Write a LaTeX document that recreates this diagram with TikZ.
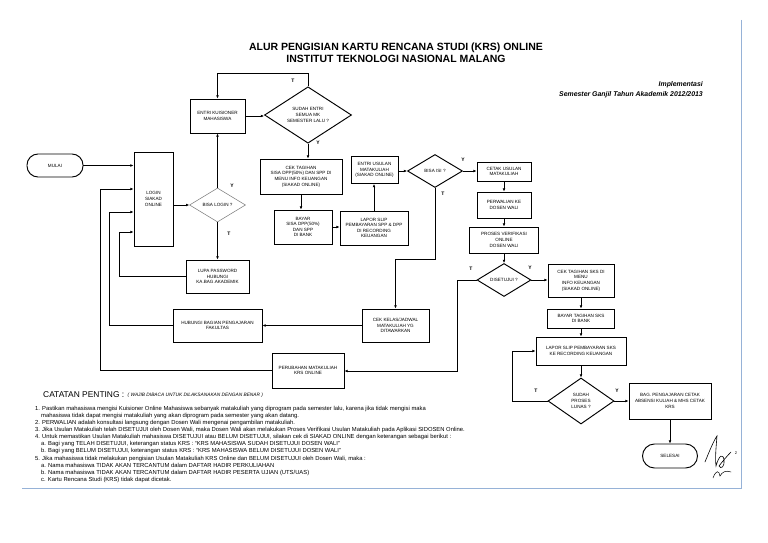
\documentclass[tikz,border=0pt]{standalone}
\usepackage{fontspec}
\setmainfont{Liberation Sans}
\usetikzlibrary{shapes.geometric,arrows.meta}
\definecolor{framec}{RGB}{150,178,215}
\begin{document}
\begin{tikzpicture}[x=1pt,y=-1pt,
 box/.style={draw,line width=0.95pt,align=center,font=\fontsize{4.6}{5.6}\selectfont,inner sep=0.5pt},
 dia/.style={draw,line width=0.95pt,diamond,align=center,font=\fontsize{4.6}{5.6}\selectfont,inner sep=0pt},
 term/.style={draw,line width=0.95pt,rounded corners=11pt,font=\fontsize{4.6}{5.6}\selectfont},
 arr/.style={line width=0.85pt,-{Latex[length=3.2pt,width=2.8pt]}},
 lab/.style={font=\bfseries\fontsize{5}{6}\selectfont,inner sep=0pt},
 note/.style={anchor=west,font=\fontsize{5.85}{6}\selectfont,inner sep=0pt},
]
\fill[white] (0,0) rectangle (768,543);
\useasboundingbox (0,0) rectangle (768,543);
% frame
\draw[framec,line width=1pt] (741,20) -- (741,488) -- (22,488);

% titles
\node[font=\bfseries\fontsize{10.5}{12}\selectfont,align=center,inner sep=0pt] (title) at (396,52.5) {ALUR PENGISIAN KARTU RENCANA STUDI (KRS) ONLINE\\INSTITUT TEKNOLOGI NASIONAL MALANG};
\node[font=\bfseries\itshape\fontsize{6.9}{10.5}\selectfont,align=right,anchor=east,inner sep=0pt] (sem) at (703,89.5) {Implementasi\\Semester Ganjil Tahun Akademik 2012/2013};

% nodes
\node[term,minimum width=56,minimum height=23] (mu) at (55,165.5) {MULAI};
\node[box,minimum width=39,minimum height=94] (lg) at (153.5,199) {LOGIN\\SIAKAD\\ONLINE};
\node[box,minimum width=55,minimum height=34] (ek) at (217.5,116) {ENTRI KUISIONER\\MAHASISWA};
\node[dia,minimum width=87,minimum height=46] (se) at (308,115) {SUDAH ENTRI\\SEMUA MK\\SEMESTER LALU ?};
\node[box,minimum width=82,minimum height=35] (ct) at (301,176.5) {CEK TAGIHAN\\SISA DPP(50\%) DAN SPP DI\\MENU INFO KEUANGAN\\(SIAKAD ONLINE)};
\node[box,minimum width=58,minimum height=34] (by) at (303,227) {BAYAR\\SISA DPP(50\%)\\DAN SPP\\DI BANK};
\node[box,minimum width=68,minimum height=34] (lp) at (374,228) {LAPOR SLIP\\PEMBAYARAN SPP \& DPP\\DI RECORDING\\KEUANGAN};
\node[box,minimum width=47,minimum height=27] (eu) at (374.5,170) {ENTRI USULAN\\MATAKULIAH\\(SIAKAD ONLINE)};
\node[dia,minimum width=55,minimum height=33] (bi) at (435,171) {BISA ISI ?};
\node[box,minimum width=54,minimum height=19] (cu) at (504,171.5) {CETAK USULAN\\MATAKULIAH};
\node[box,minimum width=54,minimum height=26] (pw) at (504,205) {PERWALIAN KE\\DOSEN WALI};
\node[box,minimum width=69,minimum height=26] (pv) at (504,240) {PROSES VERIFIKASI\\ONLINE\\DOSEN WALI};
\node[dia,minimum width=54,minimum height=33] (ds) at (504,280) {DISETUJUI ?};
\node[box,minimum width=66,minimum height=33] (cs) at (581,280.5) {CEK TAGIHAN SKS DI\\MENU\\INFO KEUANGAN\\(SIAKAD ONLINE)};
\node[box,minimum width=67,minimum height=19] (bs) at (581,318.5) {BAYAR TAGIHAN SKS\\DI BANK};
\node[box,minimum width=90,minimum height=28] (ls) at (581,351) {LAPOR SLIP PEMBAYARAN SKS\\KE RECORDING KEUANGAN};
\node[dia,minimum width=66,minimum height=46] (sl) at (581,401) {SUDAH\\PROSES\\LUNAS ?};
\node[box,minimum width=82,minimum height=36] (bp) at (670,401) {BAG. PENGAJARAN CETAK\\ABSENSI KULIAH \& MHS CETAK\\KRS};
\node[term,minimum width=55,minimum height=24,rounded corners=12pt] (sel) at (670,456) {SELESAI};
\node[dia,draw=gray,line width=0.55pt,minimum width=56,minimum height=34] (bl) at (217.5,205) {BISA LOGIN ?};
\node[box,minimum width=63,minimum height=33] (lup) at (217.5,276.5) {LUPA PASSWORD\\HUBUNGI\\KA.BAG.AKADEMIK};
\node[box,minimum width=89,minimum height=33] (hb) at (217.5,325.5) {HUBUNGI BAGIAN PENGAJARAN\\FAKULTAS};
\node[box,minimum width=67,minimum height=33] (ck) at (395.5,325.5) {CEK KELAS/JADWAL\\MATAKULIAH YG\\DITAWARKAN};
\node[box,minimum width=72,minimum height=35] (pm) at (308,370.5) {PERUBAHAN MATAKULIAH\\KRS ONLINE};

% helper coordinates
\coordinate (ctop) at (0,73);
\coordinate (c1) at (0,259);
\coordinate (c2) at (457,371);
\coordinate (c3) at (109,212);
\coordinate (c4) at (119,232);
\coordinate (c5) at (100,189);
\coordinate (c6) at (512,351);

% connectors
\draw[arr] (mu.east) -- (mu.east -| lg.west);
\draw[arr] (se.north) -- (se.north |- ctop) -| (ek.north);
\draw[arr] (ek.east) -- (ek.east -| se.west);
\draw[arr] (se.south) -- (se.south |- ct.north);
\draw[arr] (ct.south) -- (ct.south |- by.north);
\draw[arr] (by.east) -- (by.east -| lp.west);
\draw[arr] (lp.north) -- (lp.north |- eu.south);
\draw[arr] (eu.east |- bi.west) -- (bi.west);
\draw[arr] (bi.east) -- (bi.east -| cu.west);
\draw[arr] (bi.south) -- (bi.south |- c1) -| (ck.north);
\draw[arr] (cu.south) -- (pw.north);
\draw[arr] (pw.south) -- (pv.north);
\draw[arr] (pv.south) -- (ds.north);
\draw[arr] (ds.east) -- (ds.east -| cs.west);
\draw[arr] (ds.west) -| (c2) -- (c2 -| pm.east);
\draw[arr] (ck.west) -- (hb.east);
\draw[arr] (hb.west) -| (c3) -- (c3 -| lg.west);
\draw[arr] (lup.west) -| (c4) -- (c4 -| lg.west);
\draw[arr] (pm.west) -| (c5) -- (c5 -| lg.west);
\draw[arr] (lg.east |- bl.west) -- (bl.west);
\draw[arr] (bl.north) -- (bl.north |- ek.south);
\draw[arr] (bl.south) -- (bl.south |- lup.north);
\draw[arr] (cs.south) -- (bs.north);
\draw[arr] (bs.south) -- (ls.north);
\draw[arr] (ls.south) -- (sl.north);
\draw[arr] (sl.west) -| (c6) -- (ls.west);
\draw[arr] (sl.east) -- (sl.east -| bp.west);
\draw[arr] (bp.south) -- (sel.north);

% labels
\node[lab] (t1) at (293,81) {T};
\node[lab] (y1) at (318,143) {Y};
\node[lab] (y2) at (463,160) {Y};
\node[lab] (t2) at (443,194) {T};
\node[lab] (y3) at (232,186) {Y};
\node[lab] (t3) at (229,234) {T};
\node[lab] (y4) at (530,268) {Y};
\node[lab] (t4) at (471,269) {T};
\node[lab] (t5) at (536,391) {T};
\node[lab] (y5) at (617,391) {Y};

% notes
\node[anchor=west,inner sep=0pt,font=\fontsize{8.4}{10}\selectfont] (cp) at (43,395) {CATATAN PENTING :};
\node[anchor=west,inner sep=0pt,font=\itshape\fontsize{4.8}{5}\selectfont] (cp2) at ([xshift=3pt]cp.east) {( WAJIB DIBACA UNTUK DILAKSANAKAN DENGAN BENAR )};
\node[note] (n1) at (35,408.5) {1. Pastikan mahasiswa mengisi Kuisioner Online Mahasiswa sebanyak matakuliah yang diprogram pada semester lalu, karena jika tidak mengisi maka};
\node[note] (n1b) at (41,415.6) {mahasiswa tidak dapat mengisi matakuliah yang akan diprogram pada semester yang akan datang.};
\node[note] (n2) at (35,422.8) {2. PERWALIAN adalah konsultasi langsung dengan Dosen Wali mengenai pengambilan matakuliah.};
\node[note] (n3) at (35,429.9) {3. Jika Usulan Matakuliah telah DISETUJUI oleh Dosen Wali, maka Dosen Wali akan melakukan Proses Verifikasi Usulan Matakuliah pada Aplikasi SIDOSEN Online.};
\node[note] (n4) at (35,437.1) {4. Untuk memastikan Usulan Matakuliah mahasiswa DISETUJUI atau BELUM DISETUJUI, silakan cek di SIAKAD ONLINE dengan keterangan sebagai berikut :};
\node[note] (n4a) at (41,444.2) {a. Bagi yang TELAH DISETUJUI, keterangan status KRS : “KRS MAHASISWA SUDAH DISETUJUI DOSEN WALI”};
\node[note] (n4b) at (41,451.4) {b. Bagi yang BELUM DISETUJUI, keterangan status KRS : “KRS MAHASISWA BELUM DISETUJUI DOSEN WALI”};
\node[note] (n5) at (35,458.5) {5. Jika mahasiswa tidak melakukan pengisian Usulan Matakuliah KRS Online dan BELUM DISETUJUI oleh Dosen Wali, maka :};
\node[note] (n5a) at (41,465.7) {a. Nama mahasiswa TIDAK AKAN TERCANTUM dalam DAFTAR HADIR PERKULIAHAN};
\node[note] (n5b) at (41,472.8) {b. Nama mahasiswa TIDAK AKAN TERCANTUM dalam DAFTAR HADIR PESERTA UJIAN (UTS/UAS)};
\node[note] (n5c) at (41,480) {c. Kartu Rencana Studi (KRS) tidak dapat dicetak.};

% signature
\draw[line width=0.6pt,line cap=round] (705,462) .. controls (709,452) and (714,440) .. (717,436) .. controls (716,448) and (715,458) .. (716,466)
  .. controls (719,455) and (723,453) .. (724,460) .. controls (725,466) and (721,470) .. (719,466)
  .. controls (722,462) and (727,456) .. (731,452);
\draw[line width=0.5pt,line cap=round] (713,478) .. controls (716,470) and (719,470) .. (720,476) .. controls (722,472) and (726,470) .. (731,472);
\node[inner sep=0pt,font=\fontsize{4}{4}\selectfont] (two) at (736,453) {2};
\end{tikzpicture}
\end{document}
